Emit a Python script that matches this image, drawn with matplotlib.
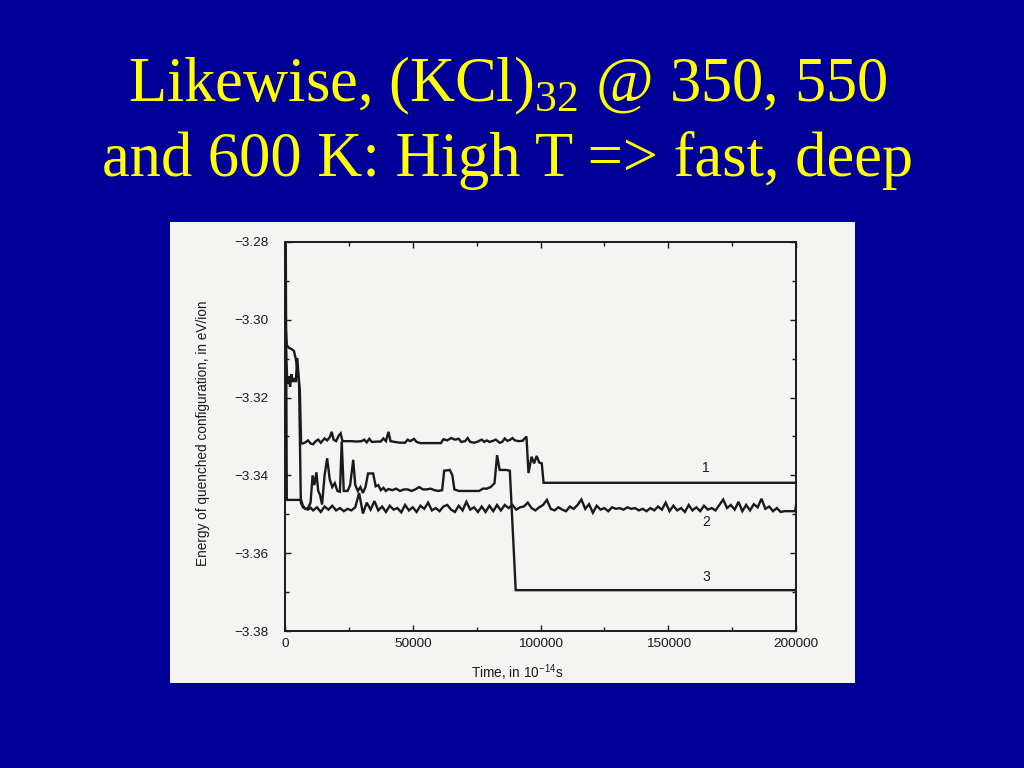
import matplotlib
matplotlib.use("Agg")
import matplotlib.pyplot as plt
from matplotlib.patches import Rectangle
from matplotlib.ticker import MultipleLocator, StrMethodFormatter

plt.rcParams['font.family'] = ['Liberation Sans', 'DejaVu Sans']

# ---------------- data (time in 1e-14 s, energy in eV/ion) ----------------
t1 = [0, 700, 1500, 2500, 3500, 4200, 5000, 5800, 6300, 7000, 8000, 9000, 10000, 11000,
      12000, 13000, 14000, 15500, 16500, 17500, 18300, 19000, 20000, 21000, 21800, 22500,
      24000, 26000, 28000, 30000, 31000, 32000, 33000, 34000, 36000, 37500, 38500, 39500,
      40500, 41300, 43000, 45000, 47000, 48000, 49000, 50500, 51500, 53000, 55000, 57000,
      59000, 61000, 62000, 63500, 65000, 66500, 68000, 69000, 70500, 71500, 72500, 74000,
      75500, 77000, 78000, 79000, 80000, 81500, 82500, 84000, 85000, 86000, 87000, 88000,
      89000, 90000, 91500, 93000, 94500, 95300, 96500, 97500, 98500, 99500, 100500, 101200,
      200000]
e1 = [-3.2985, -3.3065, -3.3072, -3.3075, -3.3080, -3.3100, -3.3135, -3.3180, -3.3318,
      -3.3318, -3.3315, -3.3310, -3.3318, -3.3320, -3.3312, -3.3308, -3.3316, -3.3305,
      -3.3310, -3.3302, -3.3288, -3.3308, -3.3312, -3.3298, -3.3292, -3.3312, -3.3312,
      -3.3312, -3.3313, -3.3312, -3.3308, -3.3315, -3.3306, -3.3314, -3.3313, -3.3313,
      -3.3305, -3.3312, -3.3288, -3.3312, -3.3314, -3.3316, -3.3316, -3.3308, -3.3312,
      -3.3306, -3.3314, -3.3317, -3.3317, -3.3317, -3.3317, -3.3317, -3.3307, -3.3310,
      -3.3304, -3.3308, -3.3306, -3.3314, -3.3312, -3.3304, -3.3314, -3.3316, -3.3313,
      -3.3308, -3.3314, -3.3310, -3.3314, -3.3311, -3.3308, -3.3316, -3.3314, -3.3305,
      -3.3311, -3.3309, -3.3304, -3.3310, -3.3312, -3.3311, -3.3300, -3.3394, -3.3352,
      -3.3369, -3.3350, -3.3367, -3.3369, -3.3419, -3.3419]

t2 = [0, 300, 700, 6300, 7000, 8000, 9000, 10000,
      11000, 12500, 14000, 15500, 17000, 18500, 20000, 21500, 23000, 24500, 26000, 27500,
      29000, 30500, 32000, 33500, 35000, 36500, 38000, 39500, 41000, 42500, 44000, 45500,
      47000, 48500, 50000, 51500, 53000, 54500, 56000, 57500, 59000, 60500, 62000, 63500,
      65000, 66500, 68000, 69500, 71000, 72500, 74000, 75500, 77000, 78500, 80000, 81500,
      83000, 84500, 86000, 87500, 89000, 90500, 92000, 93500, 95000, 96500, 98000, 99500,
      101000, 102500, 104000, 105500, 107000, 108500, 110000, 111500, 113000, 114500,
      116000, 117500, 119000, 120500, 122000, 123500, 125000, 126500, 128000, 129500,
      131000, 132500, 134000, 135500, 137000, 138500, 140000, 141500, 143000, 144500,
      146000, 147500, 149000, 150500, 152000, 153500, 155000, 156500, 158000, 159500,
      161000, 162500, 164000, 165500, 167000, 168500, 170000, 171500, 173000, 174500,
      176000, 177500, 179000, 180500, 182000, 183500, 185000, 186500, 188000, 189500,
      191000, 192500, 194000, 195500, 197000, 199700, 200000]
e2 = [-3.2800, -3.2800, -3.3463, -3.3463, -3.3478, -3.3486, -3.3488, -3.3483,
      -3.3490, -3.3482, -3.3494, -3.3480, -3.3488, -3.3478, -3.3490, -3.3484, -3.3492,
      -3.3486, -3.3490, -3.3482, -3.3445, -3.3498, -3.3470, -3.3488, -3.3466, -3.3490,
      -3.3480, -3.3494, -3.3478, -3.3488, -3.3484, -3.3495, -3.3476, -3.3490, -3.3482,
      -3.3494, -3.3478, -3.3486, -3.3470, -3.3490, -3.3484, -3.3492, -3.3480, -3.3476,
      -3.3488, -3.3494, -3.3478, -3.3490, -3.3468, -3.3488, -3.3482, -3.3494, -3.3480,
      -3.3494, -3.3478, -3.3492, -3.3476, -3.3490, -3.3476, -3.3484, -3.3476, -3.3488,
      -3.3482, -3.3480, -3.3470, -3.3484, -3.3490, -3.3482, -3.3476, -3.3463, -3.3486,
      -3.3490, -3.3482, -3.3488, -3.3492, -3.3480, -3.3486, -3.3476, -3.3462, -3.3486,
      -3.3474, -3.3496, -3.3478, -3.3488, -3.3484, -3.3492, -3.3482, -3.3486, -3.3484,
      -3.3488, -3.3482, -3.3486, -3.3484, -3.3490, -3.3486, -3.3492, -3.3484, -3.3490,
      -3.3480, -3.3488, -3.3470, -3.3492, -3.3478, -3.3490, -3.3484, -3.3494, -3.3476,
      -3.3490, -3.3482, -3.3492, -3.3478, -3.3488, -3.3484, -3.3490, -3.3476, -3.3462,
      -3.3484, -3.3476, -3.3488, -3.3468, -3.3492, -3.3476, -3.3490, -3.3474, -3.3482,
      -3.3460, -3.3486, -3.3480, -3.3492, -3.3484, -3.3494, -3.3492, -3.3492, -3.3492,
      -3.3476]

t3 = [0, 500, 1000, 1500, 2000, 2500, 3000, 3500, 4200, 4800, 5500, 6200, 7000, 8000,
      9000, 10000, 10800, 11500, 12300, 13000, 13700, 14500, 15500, 16500, 17500, 18500,
      19500, 20500, 21500, 22200, 23000, 24500, 25500, 26700, 27500, 28500, 29500, 30500,
      31500, 32500, 34500, 35500, 36500, 37500, 38500, 39500, 40500, 42000, 43500, 45000,
      46500, 48000, 49500, 51000, 52500, 54000, 55500, 57000, 58500, 60000, 61500, 62300,
      64500, 65500, 66300, 68000, 70000, 72000, 74000, 76000, 77500, 79000, 80500, 82000,
      83000, 84000, 86500, 88000, 90300, 200000]
e3 = [-3.3000, -3.3105, -3.3165, -3.3145, -3.3172, -3.3140, -3.3160, -3.3150, -3.3160,
      -3.3098, -3.3160, -3.3470, -3.3482, -3.3486, -3.3484, -3.3470, -3.3400, -3.3425,
      -3.3392, -3.3440, -3.3450, -3.3475, -3.3400, -3.3356, -3.3410, -3.3430, -3.3420,
      -3.3440, -3.3442, -3.3313, -3.3440, -3.3440, -3.3425, -3.3360, -3.3425, -3.3440,
      -3.3430, -3.3445, -3.3430, -3.3395, -3.3395, -3.3428, -3.3425, -3.3438, -3.3432,
      -3.3440, -3.3435, -3.3438, -3.3434, -3.3440, -3.3436, -3.3436, -3.3440, -3.3436,
      -3.3430, -3.3436, -3.3436, -3.3434, -3.3438, -3.3440, -3.3438, -3.3388, -3.3386,
      -3.3400, -3.3436, -3.3440, -3.3440, -3.3440, -3.3440, -3.3440, -3.3434, -3.3434,
      -3.3430, -3.3420, -3.3348, -3.3386, -3.3386, -3.3388, -3.3695, -3.3695]

curve_labels = ["1", "2", "3"]
label_t = [164800, 164800, 164800]
label_e = [-3.3381, -3.3520, -3.3662]

title_line1 = "Likewise, (KCl)$_{\\mathdefault{32}}$ @ 350, 550"
title_line2 = "and 600 K: High T => fast, deep"
x_label = "Time, in 10$^{\\mathdefault{-14}}$s"
y_label = "Energy of quenched configuration, in eV/ion"

# ---------------- figure ----------------
W, H = 1024, 768
fig = plt.figure(figsize=(W / 100, H / 100), dpi=100)
fig.patch.set_facecolor('#000099')

# white scanned image panel
fig.patches.append(Rectangle((170 / W, 1 - 683 / H), 685 / W, 461 / H,
                             transform=fig.transFigure, facecolor='#f4f4f2',
                             edgecolor='none', zorder=-5))

ax = fig.add_axes([285 / W, 1 - 631 / H, 511 / W, 389 / H])
ax.set_zorder(2)
ax.set_facecolor('#f4f4f2')
ink = '#1a1a1a'
for t, e in ((t1, e1), (t2, e2), (t3, e3)):
    ax.plot(t, e, color=ink, lw=1.7, solid_joinstyle='miter')

for s, x, y in zip(curve_labels, label_t, label_e):
    ax.text(x, y, s, fontsize=10, ha='center', va='center', color=ink)

ax.set_xlim(0, 200000)
ax.set_ylim(-3.38, -3.28)
ax.xaxis.set_major_locator(MultipleLocator(50000))
ax.xaxis.set_minor_locator(MultipleLocator(25000))
ax.yaxis.set_major_locator(MultipleLocator(0.02))
ax.yaxis.set_minor_locator(MultipleLocator(0.01))
ax.xaxis.set_major_formatter(StrMethodFormatter('{x:.0f}'))
ax.yaxis.set_major_formatter(StrMethodFormatter('{x:.2f}'))
ax.tick_params(which='both', direction='in', top=True, right=True, color=ink,
               labelcolor=ink, labelsize=9.7, width=1.0)
ax.tick_params(which='major', length=4)
ax.tick_params(axis='x', which='major', pad=5)
ax.tick_params(axis='y', which='major', pad=12)
ax.tick_params(which='minor', length=3)
for sp in ax.spines.values():
    sp.set_color(ink)
    sp.set_linewidth(1.4)

fig.text(517 / W, 1 - 673 / H, x_label, ha='center', va='center', fontsize=9.8, color=ink)
fig.text(203 / W, 1 - 433 / H, y_label, ha='center', va='center', rotation=90,
         fontsize=9.8, color=ink)

fig.text(508 / W, 1 - 101 / H, title_line1, ha='center', va='baseline',
         fontsize=45, color='#ffff00', family='Liberation Serif')
fig.text(508 / W, 1 - 176 / H, title_line2, ha='center', va='baseline',
         fontsize=45, color='#ffff00', family='Liberation Serif')

fig.savefig('out.png', dpi=100, facecolor=fig.get_facecolor())
